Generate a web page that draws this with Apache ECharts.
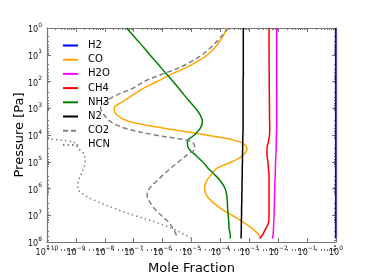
<!DOCTYPE html>
<html>
<head>
<meta charset="utf-8">
<script src="https://cdn.jsdelivr.net/npm/echarts@6/dist/echarts.min.js"></script>
<style>html,body{margin:0;padding:0;background:#fff}#c{width:374px;height:280px}</style>
</head>
<body>
<div id="c"></div>
<script>
// Pressure levels [Pa] (shared by most species)
const pressure = [1, 1.78, 3.16, 5.62, 10, 17.8, 31.6, 56.2, 100, 178, 316, 562, 1000, 1780, 3160, 5620,
  1e4, 1.78e4, 3.16e4, 5.62e4, 1e5, 1.78e5, 3.16e5, 5.62e5, 1e6, 1.78e6, 3.16e6, 5.62e6, 1e7, 1.78e7, 3.16e7, 5.62e7, 7.4e7];
// HCN is only present below ~1.4e4 Pa
const pressureHCN = [1.41e4, 1.86e4, 3.16e4, 5.62e4, 1e5, 1.78e5, 3.16e5, 5.62e5, 1e6, 1.78e6, 3.16e6, 5.62e6, 1e7, 1.78e7, 3.16e7, 5.62e7, 7.4e7];

// Mole fractions per species
const h2 = [0.97,0.97,0.97,0.97,0.97,0.97,0.97,0.97,0.97,0.97,0.97,0.97,0.97,0.97,0.97,0.97,
  0.97,0.97,0.97,0.97,0.97,0.97,0.97,0.97,0.97,0.97,0.97,0.97,0.97,0.97,0.97,0.97,0.97];
const co = [1.66e-4,1.32e-4,9.5e-5,6.2e-5,3.6e-5,1.62e-5,6.0e-6,1.82e-6,6.5e-7,2.2e-7,9.5e-8,4.2e-8,2.1e-8,2.6e-8,7.2e-8,1.12e-6,
  3.2e-5,4.6e-4,8.3e-4,6.3e-4,2.5e-4,7.4e-5,4.7e-5,3.2e-5,2.8e-5,3.3e-5,5.2e-5,1.05e-4,2.5e-4,6.0e-4,1.29e-3,2.2e-3,2.45e-3];
const h2o = [8.9e-3,8.9e-3,8.9e-3,8.9e-3,8.9e-3,8.9e-3,8.9e-3,8.9e-3,8.9e-3,8.9e-3,8.9e-3,8.9e-3,8.9e-3,8.9e-3,8.9e-3,8.9e-3,
  8.7e-3,8.6e-3,8.5e-3,8.3e-3,8.1e-3,8.0e-3,7.9e-3,7.7e-3,7.6e-3,7.5e-3,7.4e-3,7.3e-3,7.2e-3,7.0e-3,6.9e-3,6.6e-3,6.3e-3];
const ch4 = [4.8e-3,4.8e-3,4.8e-3,4.8e-3,4.85e-3,4.85e-3,4.85e-3,4.9e-3,4.9e-3,4.9e-3,4.95e-3,4.95e-3,5.0e-3,5.0e-3,5.05e-3,5.1e-3,
  5.0e-3,4.6e-3,4.1e-3,4.1e-3,4.4e-3,4.6e-3,4.8e-3,4.8e-3,4.8e-3,4.8e-3,4.8e-3,4.8e-3,4.8e-3,4.7e-3,3.7e-3,2.8e-3,2.35e-3];
const nh3 = [5.6e-8,9.1e-8,1.45e-7,2.3e-7,3.6e-7,5.8e-7,9.1e-7,1.45e-6,2.3e-6,3.6e-6,5.5e-6,8.7e-6,1.38e-5,2.0e-5,2.4e-5,2.0e-5,
  1.26e-5,7.2e-6,7.9e-6,1.38e-5,2.4e-5,3.8e-5,6.6e-5,1.05e-4,1.45e-4,1.66e-4,1.74e-4,1.78e-4,1.86e-4,1.95e-4,2.0e-4,2.2e-4,2.2e-4];
const n2 = [6.2e-4,6.2e-4,6.2e-4,6.2e-4,6.2e-4,6.2e-4,6.2e-4,6.2e-4,6.1e-4,6.1e-4,6.1e-4,6.1e-4,6.1e-4,6.1e-4,6.1e-4,6.1e-4,
  6.0e-4,5.9e-4,5.9e-4,5.8e-4,5.8e-4,5.7e-4,5.7e-4,5.6e-4,5.6e-4,5.5e-4,5.5e-4,5.4e-4,5.4e-4,5.3e-4,5.3e-4,5.2e-4,5.2e-4];
const co2 = [1.9e-4,1.2e-4,7.6e-5,4.4e-5,2.3e-5,1.0e-5,3.5e-6,8.5e-7,2.3e-7,9.5e-8,2.6e-8,1.12e-8,7.2e-9,9.5e-9,1.58e-8,5.0e-8,
  5.5e-7,1.0e-5,1.32e-5,6.9e-6,3.6e-6,1.86e-6,1.02e-6,5.9e-7,3.5e-7,2.9e-7,3.6e-7,5.2e-7,8.9e-7,1.58e-6,2.3e-6,3.0e-6,3.2e-6];
const hcn = [1.0e-10,8.3e-10,1.2e-9,2.0e-9,2.1e-9,1.82e-9,1.48e-9,1.2e-9,1.17e-9,2.0e-9,5.9e-9,2.2e-8,1.0e-7,5.4e-7,2.2e-6,6.5e-6,1.05e-5];

// Tick values
const xTicks = [1e-10,1e-9,1e-8,1e-7,1e-6,1e-5,1e-4,1e-3,1e-2,1e-1,1];
const yTicks = [1,10,100,1e3,1e4,1e5,1e6,1e7,1e8];
const minorMult = [2,3,4,5,6,7,8,9];

const names = ['H2','CO','H2O','CH4','NH3','N2','CO2','HCN'];
const values = [h2, co, h2o, ch4, nh3, n2, co2, hcn];
const levels = [pressure, pressure, pressure, pressure, pressure, pressure, pressure, pressureHCN];
const colors = ['#0000ff','#ffa500','#ff00ff','#ff0000','#008000','#000000','#808080','#808080'];
const dashes = ['solid','solid','solid','solid','solid','solid',[5,3],[1.5,3]];

function minorOf(ticks){
  const out=[];
  for(let i=0;i<ticks.length-1;i++) minorMult.forEach(m=>out.push(ticks[i]*m));
  return out;
}
const xMinor = minorOf(xTicks), yMinor = minorOf(yTicks);

const FONT = 'DejaVu Sans';
const spine = '#777';
const rich = {
  b:{fontSize:8, fontFamily:FONT, color:'#111', lineHeight:12, verticalAlign:'bottom'},
  e:{fontSize:6, fontFamily:FONT, color:'#111', lineHeight:4, verticalAlign:'top'}
};
function fmt(v){
  const e = Math.round(Math.log10(v));
  return '{b|10}{e|' + (e<0 ? '\u2212'+(-e) : e) + '}';
}

function axis(kind, pos, gridIndex, major, withLabel, extra){
  const isX = kind==='x';
  const ticks = isX ? (major?xTicks:xMinor) : (major?yTicks:yMinor);
  const a = {
    type:'log', logBase:10, gridIndex, position:pos,
    min: isX?1e-10:1, max: isX?1:1e8,
    inverse: !isX,
    axisLine:{show:major, lineStyle:{color:spine, width:1.2}},
    axisTick:{show:true, inside:true, length: major?4:2, customValues:ticks, lineStyle:{color:spine, width:1}},
    axisLabel:{show:withLabel, customValues:ticks, formatter:fmt, rich, margin:isX?3:5},
    splitLine:{show:false}, minorTick:{show:false}
  };
  return Object.assign(a, extra||{});
}

const gridBox = {left:47, right:38, top:28, bottom:29};

const series = names.map((n,i)=>({
  name:n, type:'line', xAxisIndex:0, yAxisIndex:0,
  data: levels[i].map((p,k)=>[values[i][k], p]),
  showSymbol:false, symbol:'none', smooth:0.35, clip:true,
  lineStyle:{color:colors[i], width:1.5, type:dashes[i]},
  itemStyle:{color:colors[i]}, z: 3
}));

const option = {
  animation:false,
  backgroundColor:'#fff',
  grid:[Object.assign({}, gridBox), Object.assign({}, gridBox)],
  xAxis:[
    axis('x','bottom',0,true,true,{name:'Mole Fraction', nameLocation:'middle', nameGap:20, nameMoveOverlap:false,
      nameTextStyle:{fontFamily:FONT, fontSize:13, color:'#000'}}),
    axis('x','top',0,true,false),
    axis('x','bottom',1,false,false),
    axis('x','top',1,false,false)
  ],
  yAxis:[
    axis('y','left',0,true,true,{name:'Pressure [Pa]', nameLocation:'middle', nameGap:21, nameRotate:90, nameMoveOverlap:false,
      nameTextStyle:{fontFamily:FONT, fontSize:13, color:'#000'}}),
    axis('y','right',0,true,false),
    axis('y','left',1,false,false),
    axis('y','right',1,false,false)
  ],
  legend:{
    orient:'vertical', left:57, top:35.5, itemWidth:15, itemHeight:10, itemGap:4.2,
    itemStyle:{opacity:0, borderWidth:0},
    textStyle:{fontFamily:FONT, fontSize:10, color:'#000', padding:[0,0,0,5]},
    data:names
  },
  series
};

const chart = echarts.init(document.getElementById('c'), null, {renderer:'canvas'});
chart.setOption(option);
</script>
</body>
</html>
